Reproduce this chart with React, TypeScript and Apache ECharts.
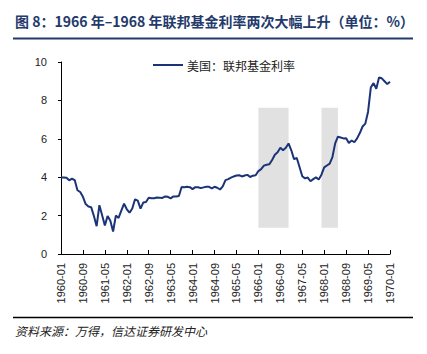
import React, { useEffect, useRef } from "react";
import * as echarts from "echarts";

const TITLE = "图 8：1966 年–1968 年联邦基金利率两次大幅上升（单位：%）";
const SOURCE = "资料来源：万得，信达证券研发中心";
const SERIES_NAME = "美国：联邦基金利率";

const startYear = 1960;
const endYear = 1970;
const categories: string[] = [];
for (let y = startYear; y <= endYear; y++) {
  for (let m = 1; m <= 12; m++) {
    if (y === endYear && m > 1) break;
    categories.push(`${y}-${String(m).padStart(2, "0")}`);
  }
}

const v1960 = [3.99, 3.99, 3.97, 3.84, 3.92, 3.85, 3.32, 3.23, 2.98, 2.6, 2.47, 2.44];
const v1961 = [1.98, 1.45, 2.54, 2.02, 1.49, 1.98, 1.73, 1.17, 2.0, 1.88, 2.26, 2.62];
const v1962 = [2.33, 2.15, 2.37, 2.85, 2.78, 2.36, 2.68, 2.71, 2.93, 2.9, 2.9, 2.94];
const v1963 = [2.93, 2.92, 3.0, 2.98, 2.9, 3.0, 2.99, 3.02, 3.49, 3.48, 3.5, 3.48];
const v1964 = [3.38, 3.48, 3.48, 3.43, 3.47, 3.5, 3.5, 3.42, 3.5, 3.45, 3.36, 3.52];
const v1965 = [3.85, 3.9, 3.98, 4.04, 4.09, 4.1, 4.04, 4.09, 4.12, 4.01, 4.08, 4.1];
const v1966 = [4.32, 4.42, 4.6, 4.65, 4.67, 4.9, 5.17, 5.3, 5.53, 5.4, 5.53, 5.76];
const v1967 = [5.4, 4.94, 5.0, 4.53, 4.05, 3.94, 3.98, 3.79, 3.9, 3.99, 3.88, 4.13];
const v1968 = [4.51, 4.61, 4.71, 5.05, 5.76, 6.11, 6.07, 6.02, 6.03, 5.78, 5.91, 5.82];
const v1969 = [6.02, 6.3, 6.64, 6.79, 7.41, 8.67, 8.9, 8.61, 9.19, 9.15, 9.0, 8.85];
const v1970 = [8.97];

const values = [
  ...v1960, ...v1961, ...v1962, ...v1963, ...v1964,
  ...v1965, ...v1966, ...v1967, ...v1968, ...v1969, ...v1970,
];

const yTicks = [0, 2, 4, 6, 8, 10];
const shadeRanges: [string, string][] = [
  ["1966-01", "1966-12"],
  ["1967-12", "1968-06"],
];
const shadeLow = 1.37;
const shadeHigh = 7.62;

export default function App() {
  const ref = useRef<HTMLDivElement>(null);
  useEffect(() => {
    if (!ref.current) return;
    const chart = echarts.init(ref.current, undefined, { renderer: "svg" });
    chart.setOption({
      animation: false,
      backgroundColor: "#ffffff",
      textStyle: { fontFamily: "Liberation Sans" },
      graphic: [
        {
          type: "text",
          left: 15,
          top: 14,
          style: {
            text: TITLE,
            fontFamily: "Noto Sans CJK SC",
            fontSize: 14,
            fontWeight: "bold",
            fill: "#233a6b",
          },
        },
        {
          type: "line",
          shape: { x1: 13, y1: 38.5, x2: 413, y2: 38.5 },
          style: { stroke: "#233a6b", lineWidth: 2 },
        },
        {
          type: "line",
          shape: { x1: 13, y1: 317.5, x2: 413, y2: 317.5 },
          style: { stroke: "#000000", lineWidth: 1.5 },
        },
        {
          type: "text",
          left: 15,
          top: 324,
          style: {
            text: SOURCE,
            fontFamily: "Noto Sans CJK SC",
            fontSize: 12,
            fontStyle: "italic",
            fill: "#222222",
          },
        },
      ],
      legend: {
        left: 148,
        top: 54,
        icon: "rect",
        itemWidth: 30,
        itemHeight: 2,
        itemGap: 10,
        textStyle: {
          fontFamily: "Noto Sans CJK SC",
          fontSize: 12,
          color: "#222",
          padding: [0, 0, 0, -1],
        },
        data: [SERIES_NAME],
      },
      grid: { left: 61, right: 37, top: 62, bottom: 100 },
      xAxis: {
        type: "category",
        data: categories,
        boundaryGap: false,
        axisLine: { lineStyle: { color: "#000", width: 1 } },
        axisTick: { inside: true, length: 4, interval: 7, lineStyle: { color: "#000" } },
        axisLabel: {
          interval: 7,
          rotate: 90,
          margin: 9,
          fontSize: 11,
          color: "#222",
          fontFamily: "Liberation Sans",
        },
        splitLine: { show: false },
      },
      yAxis: {
        type: "value",
        min: yTicks[0],
        max: yTicks[yTicks.length - 1],
        interval: 2,
        axisLine: { show: true, lineStyle: { color: "#000", width: 1 } },
        axisTick: { show: true, length: 3, lineStyle: { color: "#000" } },
        axisLabel: { fontSize: 11, color: "#222", margin: 14, fontFamily: "Liberation Sans" },
        splitLine: { show: false },
      },
      series: [
        {
          name: SERIES_NAME,
          type: "line",
          data: values,
          showSymbol: false,
          symbol: "none",
          lineStyle: { color: "#1b3478", width: 2 },
          itemStyle: { color: "#1b3478" },
          markArea: {
            silent: true,
            itemStyle: { color: "#e1e1e1" },
            data: shadeRanges.map(([a, b]) => [
              { xAxis: a, yAxis: shadeLow },
              { xAxis: b, yAxis: shadeHigh },
            ]),
          },
          z: 3,
        },
      ],
    });
    return () => chart.dispose();
  }, []);
  return <div ref={ref} style={{ width: 427, height: 354, margin: -8 }} />;
}
